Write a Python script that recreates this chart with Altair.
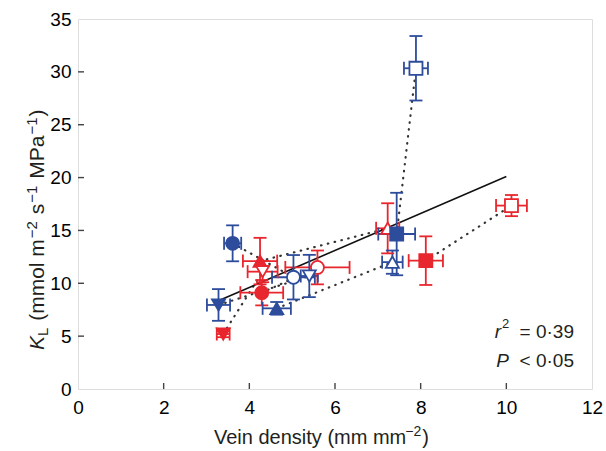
import altair as alt
import pandas as pd

RED = "#e8262d"
BLUE = "#2d4c9c"
FONT = "Liberation Sans"
TXT = "#231f20"

# ---- data ----
group  = ["blue", "blue", "red", "red", "red", "red", "blue", "blue",
          "blue", "blue", "red", "red", "blue", "blue", "red", "red"]
shape  = ["circle", "circle", "circle", "circle",
          "triangle-up", "triangle-up", "triangle-up", "triangle-up",
          "triangle-down", "triangle-down", "triangle-down", "triangle-down",
          "square", "square", "square", "square"]
filled = [True, False, True, False, True, False, True, False,
          True, False, True, False, True, False, True, False]
vein   = [3.61, 5.03, 4.29, 5.59, 4.25, 7.23, 4.64, 7.34,
          3.28, 5.40, 3.39, 4.31, 7.44, 7.89, 8.12, 10.12]
kl     = [13.78, 10.57, 9.11, 11.50, 12.10, 15.20, 7.63, 12.00,
          7.95, 10.69, 5.20, 11.10, 14.66, 30.34, 12.14, 17.35]
vein_err = [0.20, 0.50, 0.50, 0.75, 0.40, 0.27, 0.33, 0.24,
            0.27, 0.20, 0.15, 0.35, 0.43, 0.28, 0.40, 0.36]
kl_err   = [1.70, 2.10, 1.20, 1.60, 2.20, 2.37, 0.60, 1.10,
            1.50, 2.00, 0.30, 1.00, 3.90, 3.05, 2.30, 1.00]

reg_x = [3.25, 10.0]
reg_y = [8.3, 20.1]

x_ticks = [0, 2, 4, 6, 8, 10, 12]
y_ticks = [0, 5, 10, 15, 20, 25, 30, 35]
inner_x_ticks = [2, 4, 6, 8, 10]
inner_y_ticks = [5, 10, 15, 20, 25, 30]

df = pd.DataFrame({
    "group": group, "shape": shape, "filled": filled,
    "x": vein, "y": kl, "xe": vein_err, "ye": kl_err,
})
df["fillkey"] = [g if f else "open" for g, f in zip(group, filled)]
df["pair"] = [g + "-" + s for g, s in zip(group, shape)]
df["x_lo"] = df["x"] - df["xe"]
df["x_hi"] = df["x"] + df["xe"]
df["y_lo"] = df["y"] - df["ye"]
df["y_hi"] = df["y"] + df["ye"]

W, H = 514, 370

xs = alt.Scale(domain=[0, 12], nice=False, zero=False)
ys = alt.Scale(domain=[0, 35], nice=False, zero=False)
xaxis = alt.Axis(values=x_ticks, title=None, labelFontSize=19, labelPadding=9,
                 ticks=False, domain=False, grid=False, labelFlush=False)
yaxis = alt.Axis(values=y_ticks, title=None, labelFontSize=19, labelPadding=7,
                 ticks=False, domain=False, grid=False, labelFlush=False)


def X(f):
    return alt.X(f, type="quantitative", scale=xs, axis=xaxis)


def Y(f):
    return alt.Y(f, type="quantitative", scale=ys, axis=yaxis)


grp_scale = alt.Scale(domain=["red", "blue"], range=[RED, BLUE])
stroke_enc = alt.Stroke("group:N", scale=grp_scale, legend=None)
color_enc = alt.Color("group:N", scale=grp_scale, legend=None)

base = alt.Chart(df)

dotted = base.mark_line(color="#333333", strokeDash=[0.5, 6.5], strokeWidth=2.2, strokeCap="round").encode(
    x=X("x"), y=Y("y"), detail="pair:N")

reg = alt.Chart(pd.DataFrame({"x": reg_x, "y": reg_y})).mark_line(color="#111111", strokeWidth=1.6).encode(
    x=X("x"), y=Y("y"))

hbar = base.mark_rule(strokeWidth=1.8).encode(x=X("x_lo"), x2="x_hi", y=Y("y"), stroke=stroke_enc)
vbar = base.mark_rule(strokeWidth=1.8).encode(x=X("x"), y=Y("y_lo"), y2="y_hi", stroke=stroke_enc)

CAP = dict(size=13, thickness=1.8, opacity=1)
cap1 = base.mark_tick(orient="horizontal", **CAP).encode(x=X("x"), y=Y("y_lo"), color=color_enc)
cap2 = base.mark_tick(orient="horizontal", **CAP).encode(x=X("x"), y=Y("y_hi"), color=color_enc)
cap3 = base.mark_tick(orient="vertical", **CAP).encode(x=X("x_lo"), y=Y("y"), color=color_enc)
cap4 = base.mark_tick(orient="vertical", **CAP).encode(x=X("x_hi"), y=Y("y"), color=color_enc)

points = base.mark_point(filled=True, opacity=1, fillOpacity=1, strokeWidth=1.8, size=170).encode(
    x=X("x"), y=Y("y"),
    shape=alt.Shape("shape:N", scale=alt.Scale(
        domain=["circle", "triangle-up", "triangle-down", "square"],
        range=["circle", "triangle-up", "triangle-down", "square"]), legend=None),
    fill=alt.Fill("fillkey:N", scale=alt.Scale(domain=["red", "blue", "open"], range=[RED, BLUE, "white"]), legend=None),
    stroke=stroke_enc,
)

xt = alt.Chart(pd.DataFrame({"t": inner_x_ticks})).mark_rule(color="#444444", strokeWidth=1.4).encode(
    x=X("t"), y=alt.value(H), y2=alt.value(H - 6))
yt = alt.Chart(pd.DataFrame({"t": inner_y_ticks})).mark_rule(color="#444444", strokeWidth=1.4).encode(
    y=Y("t"), x=alt.value(0), x2=alt.value(6))


def label(text, x, y, size=19, style="normal", align="left", angle=0, baseline="middle"):
    kw = dict(font=FONT, fontSize=size, fontStyle=style, align=align, baseline=baseline, color=TXT)
    if angle:
        kw["angle"] = angle
    return alt.Chart(pd.DataFrame({"t": [text]})).mark_text(**kw).encode(
        text="t:N", x=alt.value(x), y=alt.value(y))


# approximate advance widths (em) of Helvetica/Arial glyphs, for laying out title pieces
ADV = {"K": 0.667, "L": 0.556, " ": 0.278, "(": 0.333, ")": 0.333, "m": 0.833, "o": 0.556,
       "l": 0.222, "s": 0.5, "M": 0.833, "P": 0.667, "a": 0.556, "−": 0.584, "1": 0.556,
       "2": 0.556, "V": 0.667, "e": 0.556, "i": 0.222, "n": 0.556, "d": 0.556, "t": 0.278,
       "y": 0.5}


def text_width(s, size):
    return sum(ADV.get(c, 0.556) for c in s) * size


def run(pieces, start, base_offset, rotated):
    """pieces: (text, size, style, offset, gap_after). Lays pieces along the writing direction."""
    layers = []
    pos = start
    for text, size, style, off, gap in pieces:
        if rotated:
            layers.append(label(text, base_offset + off, pos, size=size, style=style, angle=270))
            pos -= text_width(text, size) + gap
        else:
            layers.append(label(text, pos, base_offset + off, size=size, style=style))
            pos += text_width(text, size) + gap
    return layers


MAIN, SUP = 21, 15
SP = 0.278 * MAIN
y_title = run([
    ("K", MAIN, "italic", 0, 0),
    ("L", SUP, "normal", 5, SP + 1),
    ("(mmol m", MAIN, "normal", 0, 1),
    ("−2", SUP, "normal", -6, SP + 1),
    ("s", MAIN, "normal", 0, 1),
    ("−1", SUP, "normal", -6, SP + 1),
    ("MPa", MAIN, "normal", 0, 1),
    ("−1", SUP, "normal", -6, 1),
    (")", MAIN, "normal", 0, 0),
], start=331, base_offset=-40, rotated=True)

x_title = run([
    ("Vein density (mm mm", 20, "normal", 0, -2),
    ("−2", 14, "normal", -6, 1),
    (")", 20, "normal", 0, 0),
], start=136, base_offset=419, rotated=False)

# statistics annotation
r_txt = label("r", 423, 313, style="italic", align="right")
r_sup = label("2", 424, 305, size=13, align="left")
r_val = label("= 0·39", 496, 313, align="right")
p_txt = label("P", 431, 342, style="italic", align="right")
p_val = label("< 0·05", 496, 342, align="right")

chart = alt.layer(
    xt, yt, dotted, reg, hbar, vbar, cap1, cap2, cap3, cap4, points,
    *y_title, *x_title, r_txt, r_sup, r_val, p_txt, p_val,
).properties(
    width=W, height=H,
    autosize=alt.AutoSizeParams(type="none"),
    padding={"left": 78, "top": 19, "right": 14, "bottom": 62},
).configure_view(
    stroke="#4a4a4a", strokeWidth=1.6
).configure_axis(
    labelFont=FONT, titleFont=FONT, labelColor=TXT, titleColor=TXT
).configure(background="white")

chart.save("out.html", embed_options={"renderer": "svg", "actions": False})
